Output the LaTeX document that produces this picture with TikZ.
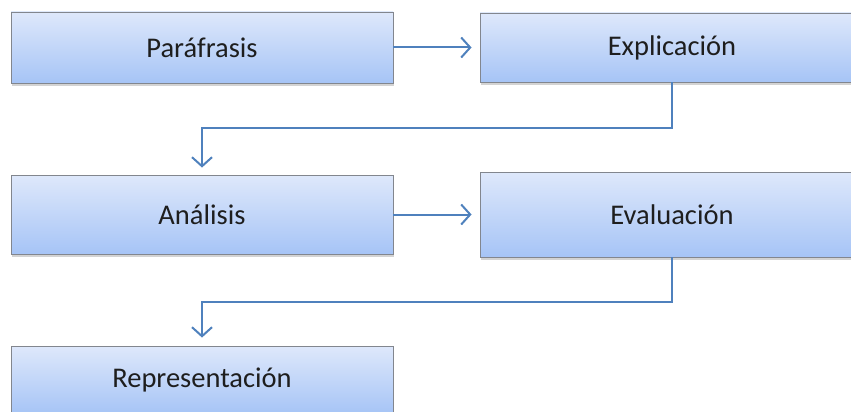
\documentclass[tikz,border=0pt]{standalone}
\usepackage{fontspec}
\setmainfont{Carlito}
\usetikzlibrary{arrows.meta,shadows}
\definecolor{boxtop}{RGB}{222,232,251}
\definecolor{boxbot}{RGB}{166,196,246}
\definecolor{boxline}{RGB}{130,134,142}
\definecolor{conncol}{RGB}{79,129,189}
\definecolor{txtcol}{RGB}{30,30,30}
\tikzset{
  stepbox/.style={draw=boxline, line width=0.9pt, top color=boxtop, bottom color=boxbot,
    text=txtcol, font=\fontsize{28.5}{32}\selectfont, inner sep=0pt,
    drop shadow={opacity=0.35, shadow xshift=1pt, shadow yshift=-3pt}},
  conn/.style={draw=conncol, line width=2pt,
    -{Straight Barb[length=9pt,width=20pt,line width=2pt]}}
}
\begin{document}
\begin{tikzpicture}[x=1pt,y=-1pt]
\useasboundingbox (0,0) rectangle (851,412);
\clip (0,0) rectangle (851,412);
\node[stepbox, minimum width=382pt, minimum height=71pt] (par) at (202,47.5) {Paráfrasis};
\node[stepbox, minimum width=384pt, minimum height=69pt] (exp) at (672,47.5) {Explicación};
\node[stepbox, minimum width=382pt, minimum height=79pt] (ana) at (202,214.5) {Análisis};
\node[stepbox, minimum width=384pt, minimum height=85pt] (eva) at (672,214.5) {Evaluación};
\node[stepbox, minimum width=382pt, minimum height=68pt] (rep) at (202,380) {Representación};
\draw[conn, shorten >=8pt] (par) -- (exp);
\draw[conn, shorten >=8pt] (ana) -- (eva);
\draw[conn, shorten >=7pt] (exp.south) -- ++(0,46) -| (ana.north);
\draw[conn, shorten >=8pt] (eva.south) -- ++(0,45) -| (rep.north);
\end{tikzpicture}
\end{document}
